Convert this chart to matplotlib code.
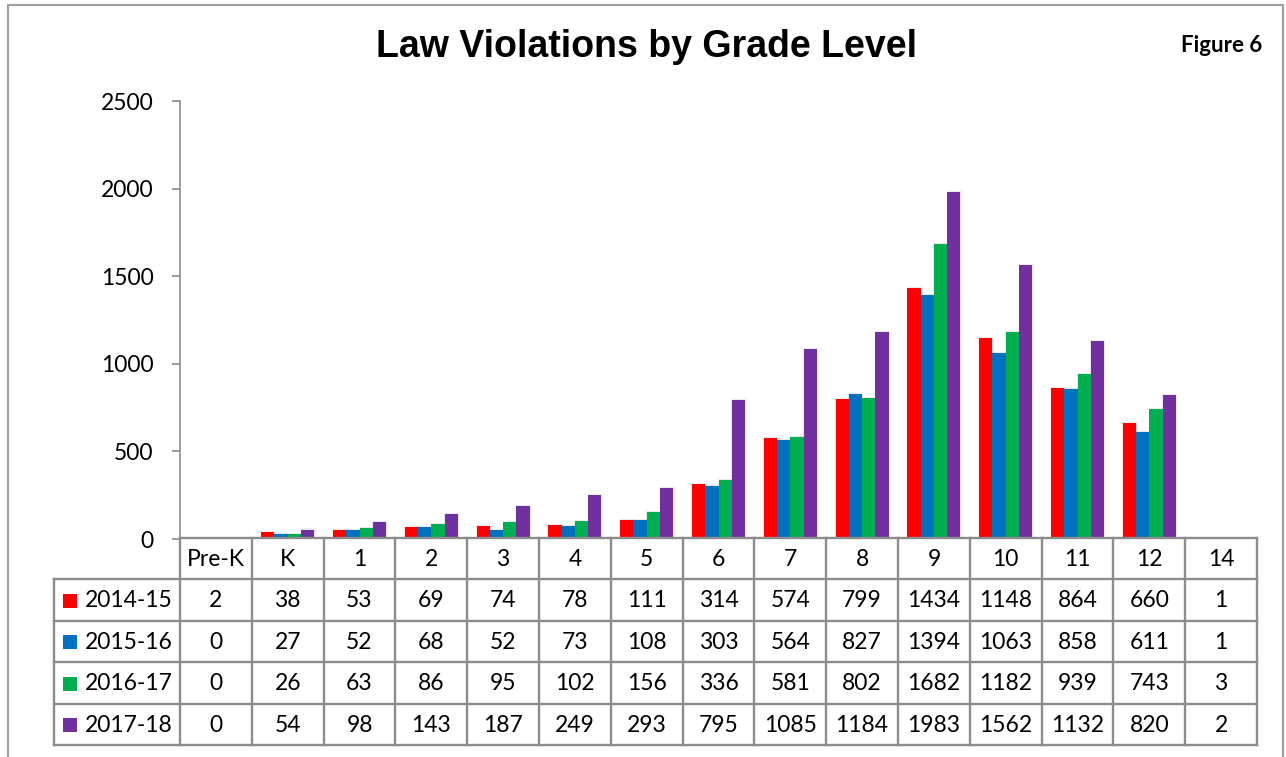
import matplotlib
matplotlib.use("Agg")
import matplotlib.pyplot as plt
from matplotlib.patches import Rectangle
from matplotlib.lines import Line2D

grades = ["Pre-K", "K", "1", "2", "3", "4", "5", "6", "7", "8", "9", "10", "11", "12", "14"]
series_names = ["2014-15", "2015-16", "2016-17", "2017-18"]
v_2014_15 = [2, 38, 53, 69, 74, 78, 111, 314, 574, 799, 1434, 1148, 864, 660, 1]
v_2015_16 = [0, 27, 52, 68, 52, 73, 108, 303, 564, 827, 1394, 1063, 858, 611, 1]
v_2016_17 = [0, 26, 63, 86, 95, 102, 156, 336, 581, 802, 1682, 1182, 939, 743, 3]
v_2017_18 = [0, 54, 98, 143, 187, 249, 293, 795, 1085, 1184, 1983, 1562, 1132, 820, 2]
colors = ["#FF0000", "#0070C0", "#00B050", "#7030A0"]
yticks = [0, 500, 1000, 1500, 2000, 2500]

series = [v_2014_15, v_2015_16, v_2016_17, v_2017_18]

W, H = 1286, 757
fig = plt.figure(figsize=(W / 100, H / 100), dpi=100)
FONT = "Lato"
FS = 16.5
GRID = "#8C8C8C"

def fx(px):
    return px / W

def fy(py):
    return 1 - py / H

# main plot axes
x0, x1 = 180, 1257
ytop, ybot = 101, 539
ax = fig.add_axes([fx(x0), fy(ybot), fx(x1 - x0), (ybot - ytop) / H])
n = len(grades)
bw = 0.185
for k, (vals, c) in enumerate(zip(series, colors)):
    xs = [i + 0.5 + (k - 1.5) * bw for i in range(n)]
    # soft shadow
    ax.bar([x + 0.006 for x in xs], [v + 6 if v > 0 else 0 for v in vals], width=bw + 0.024,
           color="#000000", alpha=0.08, edgecolor="none", zorder=2)
    ax.bar(xs, vals, width=bw, color=c, edgecolor="none", zorder=3)
ax.set_xlim(0, n)
ax.set_ylim(0, 2500)
ax.set_yticks(yticks)
ax.set_yticklabels([str(t) for t in yticks], fontsize=FS, family=FONT)
ax.set_xticks([])
for s in ["top", "right", "bottom"]:
    ax.spines[s].set_visible(False)
ax.spines["left"].set_color(GRID)
ax.spines["left"].set_linewidth(1.2)
ax.tick_params(axis="y", direction="out", length=6, width=1.2, color=GRID, pad=13)

# table axes
tl, tr, tt, tb = 54, 1257, 538, 745
colw = (tr - x0) / n
left_units = (x0 - tl) / colw
tax = fig.add_axes([fx(tl), fy(tb), fx(tr - tl), (tb - tt) / H])
tax.set_xlim(-left_units, n)
tax.set_ylim(5, 0)
tax.axis("off")
lw = 1.7
tax.plot([0, n], [0, 0], color=GRID, lw=lw, clip_on=False)
for r in range(1, 6):
    tax.plot([-left_units, n], [r, r], color=GRID, lw=lw, clip_on=False)
tax.plot([-left_units, -left_units], [1, 5], color=GRID, lw=lw, clip_on=False)
for c in range(0, n + 1):
    tax.plot([c, c], [0, 5], color=GRID, lw=lw, clip_on=False)
for i, g in enumerate(grades):
    tax.text(i + 0.5, 0.52, g, ha="center", va="center", fontsize=FS, family=FONT)
sq = 14 / colw
for r, (name, vals, c) in enumerate(zip(series_names, series, colors)):
    yc = r + 1.52
    tax.add_patch(Rectangle((-left_units + 9 / colw, yc - 0.17), sq, 0.34,
                            facecolor=c, edgecolor="none", clip_on=False))
    tax.text(-left_units + 31 / colw, yc, name, ha="left", va="center", fontsize=FS, family=FONT)
    for i, v in enumerate(vals):
        tax.text(i + 0.5, yc, str(v), ha="center", va="center", fontsize=FS, family=FONT)

# title and figure label
fig.text(fx(647), fy(47), "Law Violations by Grade Level", ha="center", va="center",
         fontsize=27, fontweight="bold", family="Liberation Sans")
fig.text(fx(1262), fy(46), "Figure 6", ha="right", va="center",
         fontsize=16, fontweight="bold", family=FONT)

# border
for (xa, ya, xb, yb) in [(8, 5, 1283, 5), (8, 5, 8, 757), (1283, 5, 1283, 757)]:
    fig.add_artist(Line2D([fx(xa), fx(xb)], [fy(ya), fy(yb)], color="#A0A0A0", lw=1.5))

fig.savefig("out.png", dpi=100)
